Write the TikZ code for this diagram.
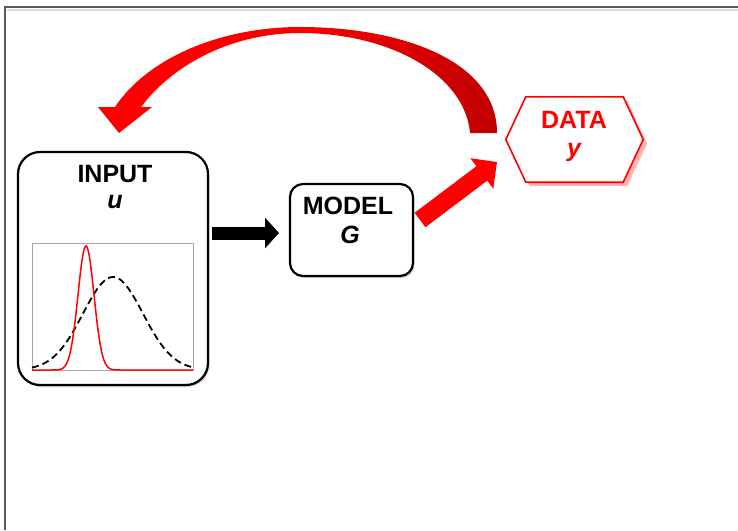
\documentclass[tikz,border=0pt]{standalone}
\usepackage{fontspec}
\setmainfont{Liberation Sans}
\usetikzlibrary{arrows.meta,calc,shadows}
\definecolor{darkred}{RGB}{192,0,0}
\definecolor{brightred}{RGB}{255,0,0}
\begin{document}
\begin{tikzpicture}[x=1pt,y=-1pt,
  box/.style={draw=black, line width=2.2pt, fill=white,
    drop shadow={shadow xshift=1.5pt, shadow yshift=-2pt, opacity=0.35}},
  lbl/.style={font=\fontsize{25}{29}\selectfont\bfseries, anchor=base, inner sep=0pt},
  lbli/.style={font=\fontsize{25}{29}\selectfont\bfseries\itshape, anchor=base, inner sep=0pt},
  blockarrow/.style={line width=#1, line cap=butt}
]
\useasboundingbox (0,0) rectangle (738,530);
\fill[white] (0,0) rectangle (738,530);
% frame
\draw[black!15, line width=2pt] (7,9.5) -- (738,9.5);
\draw[black!65, line width=1.6pt] (5,530) -- (5,7) -- (738,7);

% INPUT box
\node[box, rounded corners=22pt, minimum width=190pt, minimum height=233pt] (input) at (113,268.5) {};
\node[lbl] (inputt) at (115,182) {INPUT};
\node[lbli] (inputu) at (115,208) {u};
% plot
\draw[black!35, line width=0.6pt] (32,243) rectangle (193,370);
\draw[black, line width=1.8pt, dash pattern=on 7pt off 4pt]
  plot[domain=32:193, samples=120, smooth] (\x, {370 - 93*exp(-((\x-113)*(\x-113))/1800)});
\draw[brightred, line width=1.5pt]
  plot[domain=32:193, samples=200, smooth] (\x, {370 - 124*exp(-((\x-86)*(\x-86))/128)});

% MODEL box
\node[box, rounded corners=13pt, minimum width=123pt, minimum height=92pt] (model) at (351.5,230) {};
\node[lbl] (modelt) at (348,214) {MODEL};
\node[lbli] (modelg) at (350,243) {G};

% black arrow
\coordinate (ba) at (212,233);
\coordinate (bb) at (279,233);
\draw[blockarrow=13pt, black, -{Triangle[length=14pt,width=30pt]}] (ba) -- (bb);

% DATA hexagon
\node[minimum width=137pt, minimum height=85pt, inner sep=0pt] (data) at (574.5,139.5) {};
\begin{scope}[transform canvas={shift={(4pt,-4pt)}}]
\fill[red!30]
  (data.west) -- ([xshift=20pt]data.north west) -- ([xshift=-20pt]data.north east)
  -- (data.east) -- ([xshift=-20pt]data.south east) -- ([xshift=20pt]data.south west) -- cycle;
\end{scope}
\draw[brightred, line width=1.6pt, fill=white]
  (data.west) -- ([xshift=20pt]data.north west) -- ([xshift=-20pt]data.north east)
  -- (data.east) -- ([xshift=-20pt]data.south east) -- ([xshift=20pt]data.south west) -- cycle;
\node[lbl, text=brightred] (datat) at (574,128) {DATA};
\node[lbli, text=brightred] (datay) at (574,156) {y};

% red straight arrow
\coordinate (rs) at (420,220);
\coordinate (rt) at (497,162);
\draw[blockarrow=18pt, brightred, -{Triangle[length=19pt,width=37pt]}] (rs) -- (rt);

% curved red arrow from DATA back to INPUT
\coordinate (ci) at (470,133);
\coordinate (co) at (497,133);
\coordinate (tip) at (119,133);
\shade[left color=brightred, right color=darkred, middle color=brightred!90!darkred]
  (ci) .. controls (465,75) and (390,33) .. (300,33)
  .. controls (235,33) and (175,62) .. (141,107)
  -- (152,107) -- (tip) -- (98,107) -- (115,107)
  .. controls (150,55) and (225,27) .. (300,27)
  .. controls (400,27) and (497,60) .. (co) -- cycle;
\end{tikzpicture}
\end{document}
